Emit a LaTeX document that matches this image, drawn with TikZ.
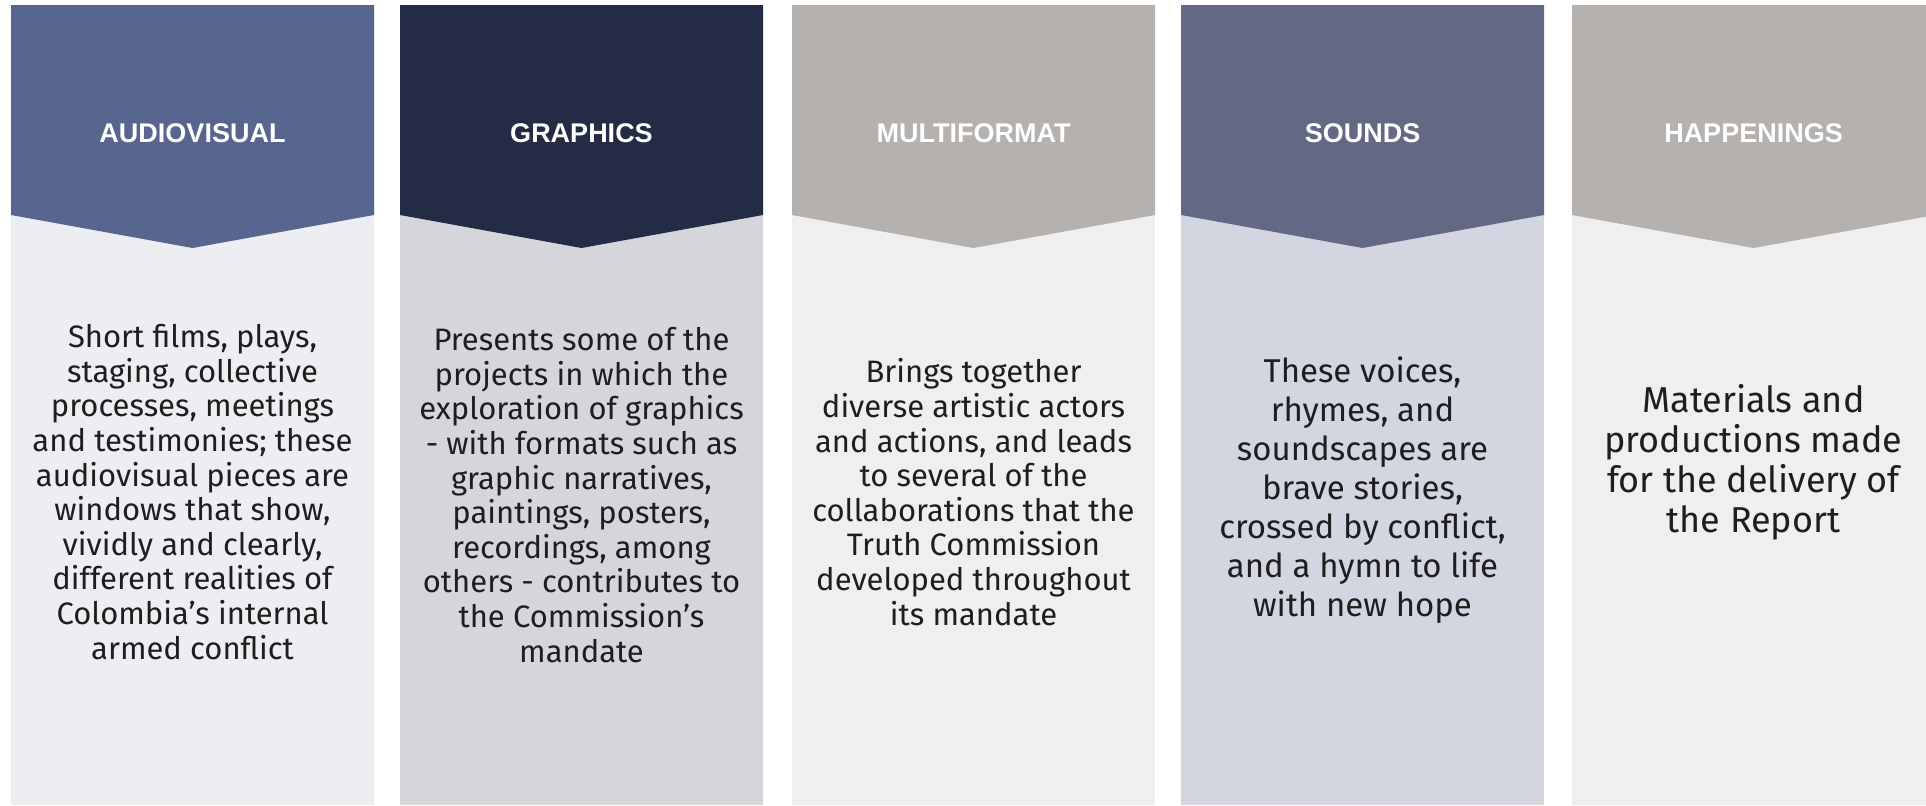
\documentclass[tikz,border=0pt]{standalone}
\usepackage{fontspec}
\setmainfont{Fira Sans}
\newfontfamily\headfont{Liberation Sans}
\definecolor{audiohead}{HTML}{58668F}
\definecolor{audiobody}{HTML}{EDEEF2}
\definecolor{graphhead}{HTML}{232B45}
\definecolor{graphbody}{HTML}{D5D5DC}
\definecolor{multihead}{HTML}{B4B1AF}
\definecolor{multibody}{HTML}{EFEFEF}
\definecolor{soundhead}{HTML}{636885}
\definecolor{soundbody}{HTML}{D3D6E0}
\definecolor{happhead}{HTML}{B4B1AF}
\definecolor{happbody}{HTML}{EFEFEF}
\definecolor{bodyink}{HTML}{1E1E1E}
\newcommand\panel[5]{%
  \fill[#4] (#1,5) rectangle ++(363,800);
  \fill[#3] (#1,5) -- ++(363,0) -- ++(0,210) -- ++(-181.5,33) -- ++(-181.5,-33) -- cycle;
  \node[headtext] (#2-head) at (#1+181.5,133) {#5};}

\begin{document}
\begin{tikzpicture}[x=0.5pt,y=-0.5pt]

\tikzset{headtext/.style={text=white,font=\headfont\bfseries\fontsize{13.5}{16}\selectfont}}
\tikzset{bodytext/.style={text=bodyink,align=center,font=\fontsize{15.5}{17.3}\selectfont}}

\clip (0,0) rectangle (1926,805);

\panel{11}  {audio}{audiohead}{audiobody}{AUDIOVISUAL}
\panel{400} {graph}{graphhead}{graphbody}{GRAPHICS}
\panel{792} {multi}{multihead}{multibody}{MULTIFORMAT}
\panel{1181}{sound}{soundhead}{soundbody}{SOUNDS}
\panel{1572}{happ} {happhead} {happbody} {HAPPENINGS}

\node[bodytext] (audio-text) at (192.5,492) {Short films, plays,\\ staging, collective\\
  processes, meetings\\ and testimonies; these\\ audiovisual pieces are\\ windows that show,\\
  vividly and clearly,\\ different realities of\\ Colombia's internal\\ armed conflict};
\node[bodytext] (graph-text) at (581.5,495) {Presents some of the\\ projects in which the\\
  exploration of graphics\\ - with formats such as\\ graphic narratives,\\ paintings, posters,\\
  recordings, among\\ others - contributes to\\ the Commission's\\ mandate};
\node[bodytext] (multi-text) at (973.5,492) {Brings together\\ diverse artistic actors\\
  and actions, and leads\\ to several of the\\ collaborations that the\\ Truth Commission\\
  developed throughout\\ its mandate};
\node[bodytext,font=\fontsize{16.5}{19.5}\selectfont] (sound-text) at (1362.5,490) {These voices,\\
  rhymes, and\\ soundscapes are\\ brave stories,\\ crossed by conflict,\\ and a hymn to life\\ with new hope};
\node[bodytext,font=\fontsize{18}{20}\selectfont] (happ-text) at (1753.5,462) {Materials and\\
  productions made\\ for the delivery of\\ the Report};

\end{tikzpicture}
\end{document}
